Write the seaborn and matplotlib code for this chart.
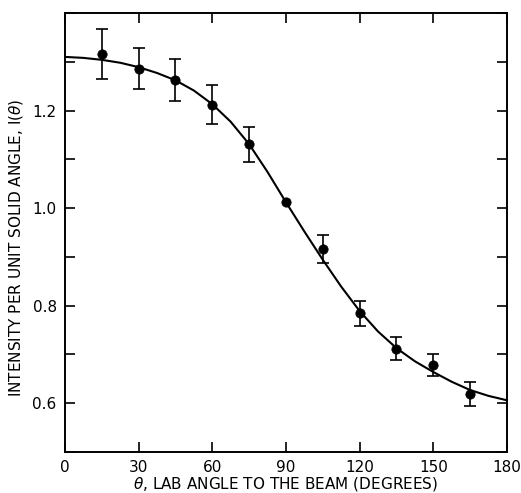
import matplotlib
matplotlib.use('Agg')
import matplotlib.pyplot as plt
from matplotlib.ticker import MultipleLocator, FuncFormatter
import seaborn as sns
import pandas as pd
import numpy as np

# measured points
angle = [15, 30, 45, 60, 75, 90, 105, 120, 135, 150, 165]
intensity = [1.316, 1.286, 1.263, 1.212, 1.131, 1.012, 0.916, 0.784, 0.712, 0.678, 0.619]
err = [0.051, 0.042, 0.043, 0.040, 0.036, 0.0, 0.028, 0.026, 0.024, 0.022, 0.024]

# fitted curve
fit_angle = [0, 7.5, 15, 22.5, 30, 37.5, 45, 52.5, 60, 67.5, 75, 82.5, 90,
             97.5, 105, 112.5, 120, 127.5, 135, 142.5, 150, 157.5, 165, 172.5, 180]
fit_val = [1.310, 1.308, 1.304, 1.298, 1.289, 1.277, 1.262, 1.241, 1.213, 1.177, 1.131, 1.074, 1.012,
           0.952, 0.894, 0.839, 0.789, 0.747, 0.713, 0.686, 0.664, 0.644, 0.627, 0.615, 0.606]

pts = pd.DataFrame({'angle': angle, 'I': intensity, 'err': err})
fit = pd.DataFrame({'angle': fit_angle, 'I': fit_val})

sns.set_style('ticks')
plt.rcParams['font.family'] = ['DejaVu Sans']
for k in ['text.color', 'axes.labelcolor', 'xtick.color', 'ytick.color', 'axes.edgecolor']:
    plt.rcParams[k] = 'black'

fig = plt.figure(figsize=(5.21, 4.93), dpi=100)
ax = fig.add_axes([0.1248, 0.0832, 0.8482, 0.8904])

sns.lineplot(data=fit, x='angle', y='I', color='black', linewidth=1.5, ax=ax)
e = pts[pts.err > 0]
ax.errorbar(e.angle, e.I, yerr=e.err, fmt='none', ecolor='black', elinewidth=1.2, capsize=4, capthick=1.2)
sns.scatterplot(data=pts, x='angle', y='I', color='black', s=45, edgecolor='black', zorder=5, ax=ax)

ax.set_xlim(0, 180)
ax.set_ylim(0.5, 1.4)
ax.xaxis.set_major_locator(MultipleLocator(30))
ax.yaxis.set_major_locator(MultipleLocator(0.1))
ax.yaxis.set_major_formatter(FuncFormatter(lambda v, p: f'{v:.1f}' if round(v * 10) % 2 == 0 and 0.55 < v < 1.25 else ''))
ax.tick_params(direction='in', length=7, width=1.2, top=True, right=True, labelsize=11, pad=6)
for s in ax.spines.values():
    s.set_linewidth(1.4)

ax.set_xlabel(r'$\theta$, LAB ANGLE TO THE BEAM (DEGREES)', fontsize=11, va='baseline')
ax.xaxis.set_label_coords(0.5, -0.084)
ax.set_ylabel(r'INTENSITY PER UNIT SOLID ANGLE, I($\theta$)', fontsize=11, va='center')
ax.yaxis.set_label_coords(-0.11, 0.466)

fig.savefig('out.png', dpi=100)
